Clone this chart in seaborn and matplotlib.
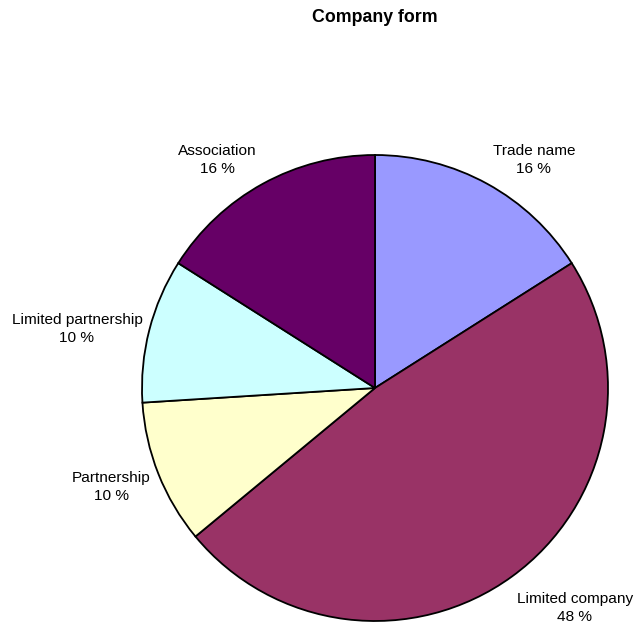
import matplotlib
matplotlib.use("Agg")
import matplotlib.pyplot as plt
import seaborn as sns

# Company form shares (percent), clockwise from 12 o'clock
categories = ["Trade name", "Limited company", "Partnership",
              "Limited partnership", "Association"]
shares = [16, 48, 10, 10, 16]
colors = ["#9999FF", "#993366", "#FFFFCC", "#CCFFFF", "#660066"]

# label anchor points in pie units (radius = 1)
label_pos = [(0.682, 0.979), (0.858, -0.944), (-1.133, -0.425),
             (-1.279, 0.253), (-0.678, 0.979)]

sns.set_style("white")
plt.rcParams["font.family"] = ["Liberation Sans", "DejaVu Sans"]
plt.rcParams["text.color"] = "black"

fig = plt.figure(figsize=(6.37, 6.25), dpi=100)
fig.patch.set_facecolor("white")

W, H = 637, 625
cx, cy, r = 375, 388, 233
ax = fig.add_axes([(cx - r) / W, 1 - (cy + r) / H, 2 * r / W, 2 * r / H])

wedges, _ = ax.pie(shares, colors=colors, startangle=90, counterclock=False,
                   radius=1, wedgeprops=dict(edgecolor="black", linewidth=1.3))
ax.set_xlim(-1, 1)
ax.set_ylim(-1, 1)
ax.set_aspect("equal")
ax.axis("off")

for name, val, (x, y) in zip(categories, shares, label_pos):
    ax.text(x, y, f"{name}\n{val} %", ha="center", va="center",
            fontsize=11.1, color="black", linespacing=1.3, clip_on=False)

fig.text(cx / W, 1 - 18 / H, "Company form", ha="center", va="center",
         fontsize=12.8, fontweight="bold", color="black")

fig.savefig("out.png", dpi=100, facecolor="white")
